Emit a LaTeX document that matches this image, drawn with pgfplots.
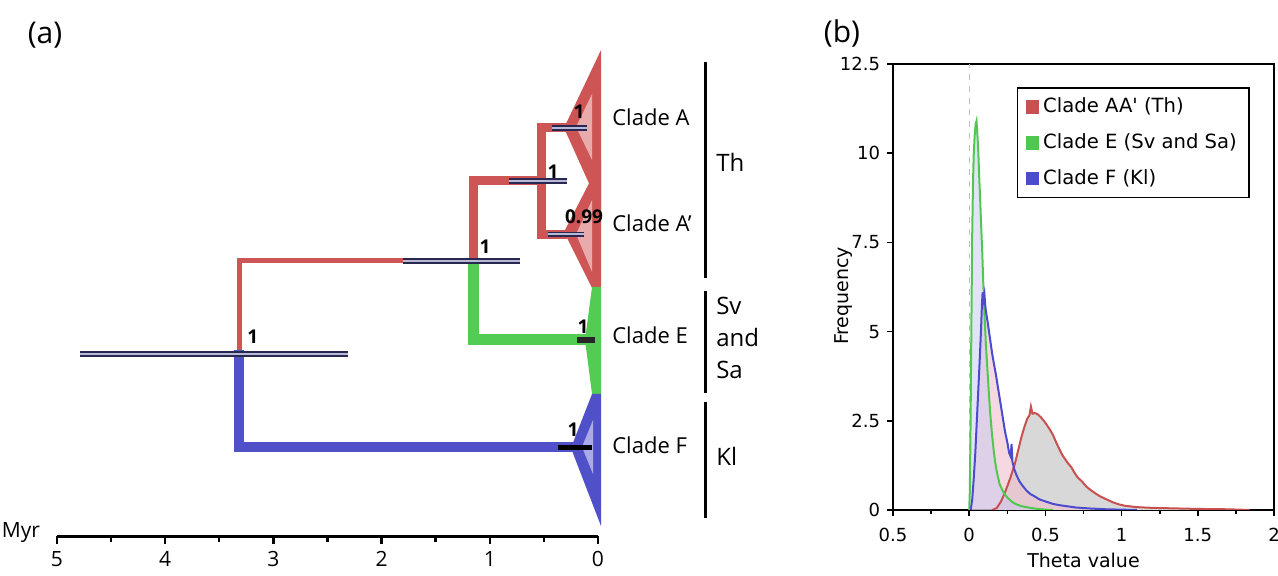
\documentclass[border=0pt]{standalone}
\usepackage{fontspec}
\usepackage{pgfplots}
\usepackage{pgfplotstable}
\pgfplotsset{compat=1.18}
\setmainfont{Open Sans}
\newfontfamily\os{Open Sans}
\newfontfamily\dv{DejaVu Sans}[Ligatures=TeXOff]

\definecolor{tR}{RGB}{205,85,85}
\definecolor{tRl}{RGB}{232,170,170}
\definecolor{tG}{RGB}{82,204,82}
\definecolor{tB}{RGB}{80,80,200}
\definecolor{tBl}{RGB}{170,170,232}
\definecolor{hpd}{RGB}{40,40,80}
\definecolor{hpdl}{RGB}{185,185,215}
\definecolor{cR}{RGB}{200,80,80}
\definecolor{cG}{RGB}{80,200,80}
\definecolor{cB}{RGB}{75,75,205}
\definecolor{fR}{RGB}{216,216,216}
\definecolor{fG}{RGB}{200,200,240}
\definecolor{fB}{RGB}{240,190,205}

% theta densities (b)
\pgfplotstableread{
x y
0.150 0
0.180 0.05
0.210 0.25
0.240 0.55
0.270 0.9
0.300 1.3
0.320 1.65
0.340 2.0
0.360 2.3
0.380 2.55
0.395 2.65
0.405 2.9
0.415 2.7
0.430 2.72
0.450 2.68
0.470 2.6
0.490 2.5
0.510 2.38
0.530 2.25
0.550 2.1
0.570 1.9
0.590 1.72
0.610 1.55
0.630 1.42
0.650 1.3
0.670 1.2
0.690 1.05
0.710 0.92
0.740 0.8
0.770 0.65
0.800 0.55
0.830 0.46
0.860 0.38
0.900 0.3
0.940 0.22
0.980 0.16
1.020 0.12
1.060 0.1
1.100 0.08
1.200 0.06
1.300 0.05
1.400 0.04
1.500 0.03
1.600 0.025
1.700 0.02
1.840 0
}\tR
\pgfplotstableread{
x y
0.000 0
0.004 0.5
0.008 2.0
0.012 4.0
0.016 6.0
0.020 7.8
0.025 9.2
0.030 10.0
0.036 10.5
0.042 10.8
0.048 10.9
0.054 10.5
0.060 10.0
0.066 9.3
0.072 8.7
0.078 8.0
0.085 7.3
0.092 6.4
0.100 5.5
0.110 4.6
0.120 3.9
0.130 3.2
0.140 2.6
0.150 2.1
0.160 1.7
0.170 1.35
0.180 1.1
0.190 0.9
0.200 0.72
0.215 0.58
0.230 0.46
0.250 0.35
0.270 0.27
0.290 0.2
0.320 0.14
0.350 0.1
0.400 0.06
0.450 0.03
0.500 0.01
0.550 0
}\tG
\pgfplotstableread{
x y
0.010 0
0.020 0.3
0.030 0.9
0.040 1.6
0.050 2.5
0.060 3.4
0.070 4.3
0.078 5.1
0.084 5.8
0.088 6.1
0.094 5.9
0.100 6.05
0.106 5.7
0.112 5.5
0.120 5.3
0.130 5.0
0.140 4.7
0.150 4.4
0.160 4.15
0.175 3.8
0.190 3.4
0.205 3.0
0.220 2.6
0.235 2.2
0.250 1.9
0.262 1.6
0.272 1.5
0.278 1.85
0.284 1.35
0.295 1.15
0.310 0.98
0.330 0.8
0.350 0.68
0.375 0.55
0.400 0.45
0.430 0.38
0.460 0.3
0.500 0.24
0.550 0.17
0.600 0.13
0.650 0.1
0.700 0.07
0.800 0.04
0.900 0.02
1.000 0.01
1.100 0
}\tB

\begin{document}
\begin{tikzpicture}
\useasboundingbox (0,0) rectangle (639bp,288bp);

\node[font=\os\fontsize{15bp}{17bp}\selectfont] at (22.5bp,270.5bp) {(a)};
\node[font=\os\fontsize{15bp}{17bp}\selectfont] at (421bp,271.5bp) {(b)};
\node[font=\os\fontsize{10.5bp}{12bp}\selectfont] at (10.5bp,21.5bp) {Myr};

% (a) time tree, x in Myr before present, y in picture rows
\begin{axis}[at={(28.5bp,20bp)}, anchor=south west, scale only axis,
    width=270.5bp, height=243bp,
    xmin=0, xmax=5, ymin=40, ymax=526, x dir=reverse, clip=false,
    axis x line=bottom, axis y line=none,
    x axis line style={-, line width=1.5bp},
    xtick={0,1,2,3,4,5}, minor x tick num=1,
    tick align=outside, major tick length=4bp, minor tick length=3bp,
    tick style={black, line width=1.2bp},
    xticklabel style={font=\os\fontsize{10.5bp}{12bp}\selectfont},
    /pgf/number format/assume math mode=true]
  % branches
  \addplot[tR, line width=2.5bp] coordinates {(3.315,222)(3.315,315.5)(1.155,315.5)};
  \addplot[tB, line width=5bp] coordinates {(3.315,226)(3.315,129)(0.2,129)};
  \addplot[tR, line width=4.5bp] coordinates {(1.155,315.5)(1.155,395)(0.518,395)};
  \addplot[tG, line width=5.5bp] coordinates {(1.155,315.5)(1.155,236)(0.1,236)};
  \addplot[tR, line width=4.5bp] coordinates {(0.29,448)(0.518,448)(0.518,341)(0.29,341)};
  % collapsed clades
  \addplot[draw=none, fill=tR] coordinates {(0.314,448)(-0.028,526)(-0.028,366)} --cycle;
  \addplot[draw=none, fill=tR] coordinates {(0.314,344)(-0.028,416)(-0.028,288)(0.055,288)} --cycle;
  \addplot[draw=none, fill=tRl] coordinates {(0.203,449)(0.055,482)(0.055,416)} --cycle;
  \addplot[draw=none, fill=tRl] coordinates {(0.203,342)(0.055,376)(0.055,304)} --cycle;
  \addplot[draw=none, fill=tG] coordinates {(0.055,289)(0.120,236)(0.055,182)(-0.028,182)(-0.028,289)} --cycle;
  \addplot[draw=none, fill=tB] coordinates {(0.055,182)(-0.028,182)(-0.028,50)(0.25,128)} --cycle;
  \addplot[draw=none, fill=tBl] coordinates {(0.148,129)(0.046,156)(0.046,102)} --cycle;
  % node age bars
  \addplot[hpd, line width=2.6bp] coordinates {(4.787,222)(2.311,222)};
  \addplot[hpdl, line width=1bp] coordinates {(4.787,222)(2.311,222)};
  \addplot[hpd, line width=2.6bp] coordinates {(1.802,315)(0.721,315)};
  \addplot[hpdl, line width=1bp] coordinates {(1.802,315)(0.721,315)};
  \addplot[hpd, line width=2.6bp] coordinates {(0.823,395)(0.287,395)};
  \addplot[hpdl, line width=1bp] coordinates {(0.823,395)(0.287,395)};
  \addplot[hpd, line width=2.6bp] coordinates {(0.425,448)(0.102,448)};
  \addplot[hpdl, line width=1bp] coordinates {(0.425,448)(0.102,448)};
  \addplot[hpd, line width=2.6bp] coordinates {(0.462,341.5)(0.129,341.5)};
  \addplot[hpdl, line width=1bp] coordinates {(0.462,341.5)(0.129,341.5)};
  \addplot[black!85, line width=2.6bp] coordinates {(0.194,236)(0.028,236)};
  \addplot[black, line width=2.6bp] coordinates {(0.370,128.5)(0.055,128.5)};
  % posterior probabilities
  \begin{scope}[font=\os\bfseries\fontsize{9.5bp}{11bp}\selectfont, inner sep=0pt]
    \node[anchor=west] at (axis cs:3.244,239) {1};
    \node at (axis cs:1.044,329) {1};
    \node at (axis cs:0.416,404) {1};
    \node at (axis cs:0.176,464) {1};
    \node at (axis cs:0.129,359) {0.99};
    \node at (axis cs:0.139,249) {1};
    \node at (axis cs:0.231,146) {1};
  \end{scope}
  % clade names and groups
  \begin{scope}[font=\os\fontsize{11bp}{13bp}\selectfont, inner sep=0pt, anchor=west]
    \node[anchor=west] at (axis cs:-0.129,459) {Clade A};
    \node[anchor=west] at (axis cs:-0.129,353) {Clade A’};
    \node[anchor=west] at (axis cs:-0.129,241) {Clade E};
    \node[anchor=west] at (axis cs:-0.129,131) {Clade F};
  \end{scope}
  \addplot[black, line width=1.5bp] coordinates {(-0.998,514)(-0.998,298)};
  \addplot[black, line width=1.5bp] coordinates {(-0.998,285)(-0.998,183)};
  \addplot[black, line width=1.5bp] coordinates {(-0.998,174)(-0.998,58)};
  \begin{scope}[font=\os\fontsize{12bp}{16bp}\selectfont, inner sep=0pt]
    \node[anchor=west] at (axis cs:-1.09,414) {Th};
    \node[anchor=west, align=left] at (axis cs:-1.09,238) {Sv\\and\\Sa};
    \node[anchor=west] at (axis cs:-1.09,120) {Kl};
  \end{scope}
\end{axis}

% (b) theta posterior densities
\begin{axis}[at={(446.5bp,33bp)}, anchor=south west, scale only axis,
    width=190.5bp, height=223bp,
    xmin=-0.5, xmax=2, ymin=0, ymax=12.5,
    axis line style={line width=0.8bp},
    xtick={-0.5,0,0.5,1,1.5,2}, xticklabels={0.5,0,0.5,1,1.5,2},
    ytick={0,2.5,5,7.5,10,12.5}, yticklabels={0,2.5,5,7.5,10,12.5},
    minor x tick num=1, tick pos=left, tick align=outside,
    major tick length=3bp, minor tick length=2bp,
    tick style={black, line width=0.8bp},
    ticklabel style={font=\dv\fontsize{9bp}{10bp}\selectfont},
    xticklabel style={yshift=-2.5bp},
    xlabel={Theta value}, ylabel={Frequency},
    label style={font=\dv\fontsize{9.5bp}{11bp}\selectfont},
    xlabel style={at={(axis description cs:0.5,-0.112)}, anchor=center},
    ylabel style={at={(axis description cs:-0.131,0.48)}, anchor=center},
    legend style={at={(axis description cs:0.325,0.948)}, anchor=north west,
      draw=black, line width=0.8bp, font=\dv\fontsize{9.8bp}{11bp}\selectfont,
      row sep=5bp, inner xsep=4bp, inner ysep=3bp},
    legend cell align=left]
  \addplot[gray!50, dashed, line width=0.6bp, forget plot] coordinates {(0,0)(0,12.5)};
  \addplot[draw=none, fill=fR, forget plot] table[x=x,y=y]{\tR} \closedcycle;
  \addplot[draw=none, fill=fB, fill opacity=0.6, forget plot] table[x=x,y=y]{\tB} \closedcycle;
  \addplot[draw=none, fill=fG, fill opacity=0.5, forget plot] table[x=x,y=y]{\tG} \closedcycle;
  \addplot[cR, line width=1bp, forget plot] table[x=x,y=y]{\tR};
  \addplot[cG, line width=1bp, forget plot] table[x=x,y=y]{\tG};
  \addplot[cB, line width=1bp, forget plot] table[x=x,y=y]{\tB};
  \addlegendimage{legend image code/.code={\fill[cR] (0bp,-3bp) rectangle (6bp,3bp);}}
  \addlegendentry{Clade AA' (Th)}
  \addlegendimage{legend image code/.code={\fill[cG] (0bp,-3bp) rectangle (6bp,3bp);}}
  \addlegendentry{Clade E (Sv and Sa)}
  \addlegendimage{legend image code/.code={\fill[cB] (0bp,-3bp) rectangle (6bp,3bp);}}
  \addlegendentry{Clade F (Kl)}
\end{axis}
\end{tikzpicture}
\end{document}
